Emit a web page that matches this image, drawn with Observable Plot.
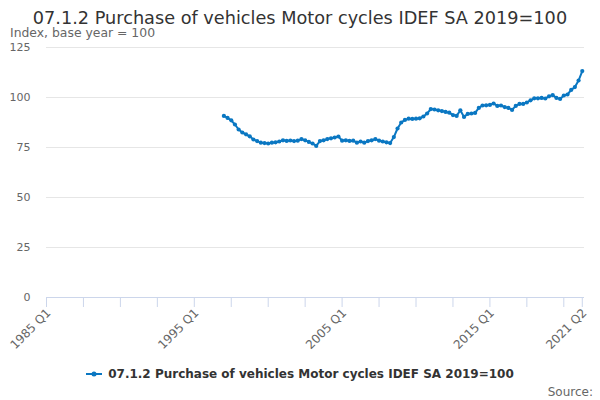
<!DOCTYPE html>
<html>
<head>
<meta charset="utf-8">
<script src="https://cdn.jsdelivr.net/npm/d3@7"></script>
<script src="https://cdn.jsdelivr.net/npm/@observablehq/plot@0.6"></script>
<style>
  html, body { margin: 0; padding: 0; background: #fff; }
  #wrap { position: relative; width: 600px; height: 400px; overflow: hidden; font-family: "DejaVu Sans", sans-serif; }
  #title { position: absolute; top: 10px; left: 0; width: 600px; text-align: center; font-size: 17.7px; line-height: 16px; color: #333; white-space: nowrap; }
  #subtitle { position: absolute; top: 27px; left: 10px; font-size: 12.4px; line-height: 12px; color: #666; white-space: nowrap; }
  #plot { position: absolute; top: 38px; left: 0; }
  #legend { position: absolute; top: 366px; left: 0; width: 600px; display: flex; justify-content: center; align-items: center; height: 16px; }
  #legend .txt { font-size: 12px; font-weight: bold; color: #333; margin-left: 6px; white-space: nowrap; }
  #source { position: absolute; top: 385px; right: 7px; font-size: 12px; line-height: 14px; color: #666; }
</style>
</head>
<body>
<div id="wrap">
  <div id="title"></div>
  <div id="subtitle"></div>
  <div id="plot"></div>
  <div id="legend"></div>
  <div id="source"></div>
</div>
<script>
const titleText = "07.1.2 Purchase of vehicles Motor cycles IDEF SA 2019=100";
const subtitleText = "Index, base year = 100";
const seriesName = "07.1.2 Purchase of vehicles Motor cycles IDEF SA 2019=100";
const sourceText = "Source:";
const lineColor = "#0a77c2";

// Axis categories: 1985 Q1 .. 2021 Q2
const firstYear = 1985, lastYear = 2021, lastQuarter = 2;
const quarters = [];
for (let y = firstYear; y <= lastYear; y++) {
  for (let q = 1; q <= 4; q++) {
    if (y === lastYear && q > lastQuarter) break;
    quarters.push(y + " Q" + q);
  }
}
const seriesStart = "1997 Q1";

// Series values, 1997 Q1 .. 2021 Q2
const values = [
  90.8, 89.8, 88.6, 86.5, 84.0, 82.5, 81.6, 80.6,   // 1997-1998
  79.0, 78.2, 77.4, 77.2, 77.0, 77.4, 77.6, 78.0,   // 1999-2000
  78.6, 78.3, 78.5, 78.2, 78.4, 79.2, 78.6, 77.8,   // 2001-2002
  77.0, 75.8, 78.2, 78.6, 79.2, 79.6, 80.0, 80.5,   // 2003-2004
  78.4, 78.6, 78.3, 78.4, 77.4, 78.0, 77.4, 78.2,   // 2005-2006
  78.6, 79.2, 78.4, 78.0, 77.6, 77.2, 80.2, 84.5,   // 2007-2008
  87.5, 88.8, 89.4, 89.3, 89.4, 89.6, 90.5, 92.0,   // 2009-2010
  94.2, 94.0, 93.6, 93.2, 92.8, 92.4, 91.2, 90.8,   // 2011-2012
  93.6, 90.3, 91.8, 92.0, 92.3, 94.8, 96.0, 96.1,   // 2013-2014
  96.3, 97.0, 95.8, 96.0, 95.2, 94.8, 93.8, 95.8,   // 2015-2016
  96.8, 96.8, 97.5, 98.6, 99.6, 99.6, 99.8, 99.5,   // 2017-2018
  100.6, 101.2, 99.8, 99.3, 101.0, 101.5, 103.8, 105.2, // 2019-2020
  108.5, 113.2                                       // 2021 Q1-Q2
];

const yTicks = [0, 25, 50, 75, 100, 125];
const xTickLabels = ["1985 Q1", "1995 Q1", "2005 Q1", "2015 Q1", "2021 Q2"];
const xMinorEvery = 10;

const startIdx = quarters.indexOf(seriesStart);
const data = values.map((v, i) => ({ period: quarters[startIdx + i], idx: startIdx + i, value: v }));

const lastIdx = quarters.length - 1;
const minorTicks = [];
for (let i = 0; i < lastIdx; i += xMinorEvery) minorTicks.push(i);
minorTicks.push(lastIdx);
const labelTicks = xTickLabels.map(l => ({ idx: quarters.indexOf(l), label: l }));

const chart = Plot.plot({
  width: 600,
  height: 322,
  marginTop: 9,
  marginBottom: 63,
  marginLeft: 46,
  marginRight: 16,
  style: { fontFamily: "DejaVu Sans, sans-serif", background: "transparent", overflow: "visible" },
  x: { domain: [0, lastIdx + 0.6] },
  y: { domain: [0, 125], axis: null },
  marks: [
    Plot.ruleY(yTicks.filter(d => d > 0), { stroke: "#e6e6e6", strokeWidth: 1 }),
    Plot.ruleY([0], { stroke: "#ccd6eb", strokeWidth: 1 }),
    Plot.axisX(minorTicks, { tickSize: 10, tickFormat: () => "", stroke: "#ccd6eb", strokeOpacity: 1, label: null }),
    Plot.text(yTicks, { y: d => d, frameAnchor: "left", text: d => String(d), textAnchor: "end", dx: -16, fill: "#666", fontSize: 11 }),
    Plot.text(labelTicks, { x: "idx", frameAnchor: "bottom", text: "label", rotate: -45, textAnchor: "end", lineAnchor: "bottom", dx: 5, dy: 16, fill: "#666", fontSize: 12 }),
    Plot.line(data, { x: "idx", y: "value", stroke: lineColor, strokeWidth: 2 }),
    Plot.dot(data, { x: "idx", y: "value", r: 2.1, fill: lineColor, stroke: "none" })
  ]
});
document.getElementById("plot").appendChild(chart);

document.getElementById("title").textContent = titleText;
document.getElementById("subtitle").textContent = subtitleText;
document.getElementById("source").textContent = sourceText;

const leg = document.getElementById("legend");
const sym = document.createElementNS("http://www.w3.org/2000/svg", "svg");
sym.setAttribute("width", "16"); sym.setAttribute("height", "12");
sym.innerHTML = `<line x1="0" y1="6" x2="16" y2="6" stroke="${lineColor}" stroke-width="2"/><circle cx="8" cy="6" r="2.5" fill="${lineColor}"/>`;
leg.appendChild(sym);
const t = document.createElement("span");
t.className = "txt"; t.textContent = seriesName;
leg.appendChild(t);
</script>
</body>
</html>
